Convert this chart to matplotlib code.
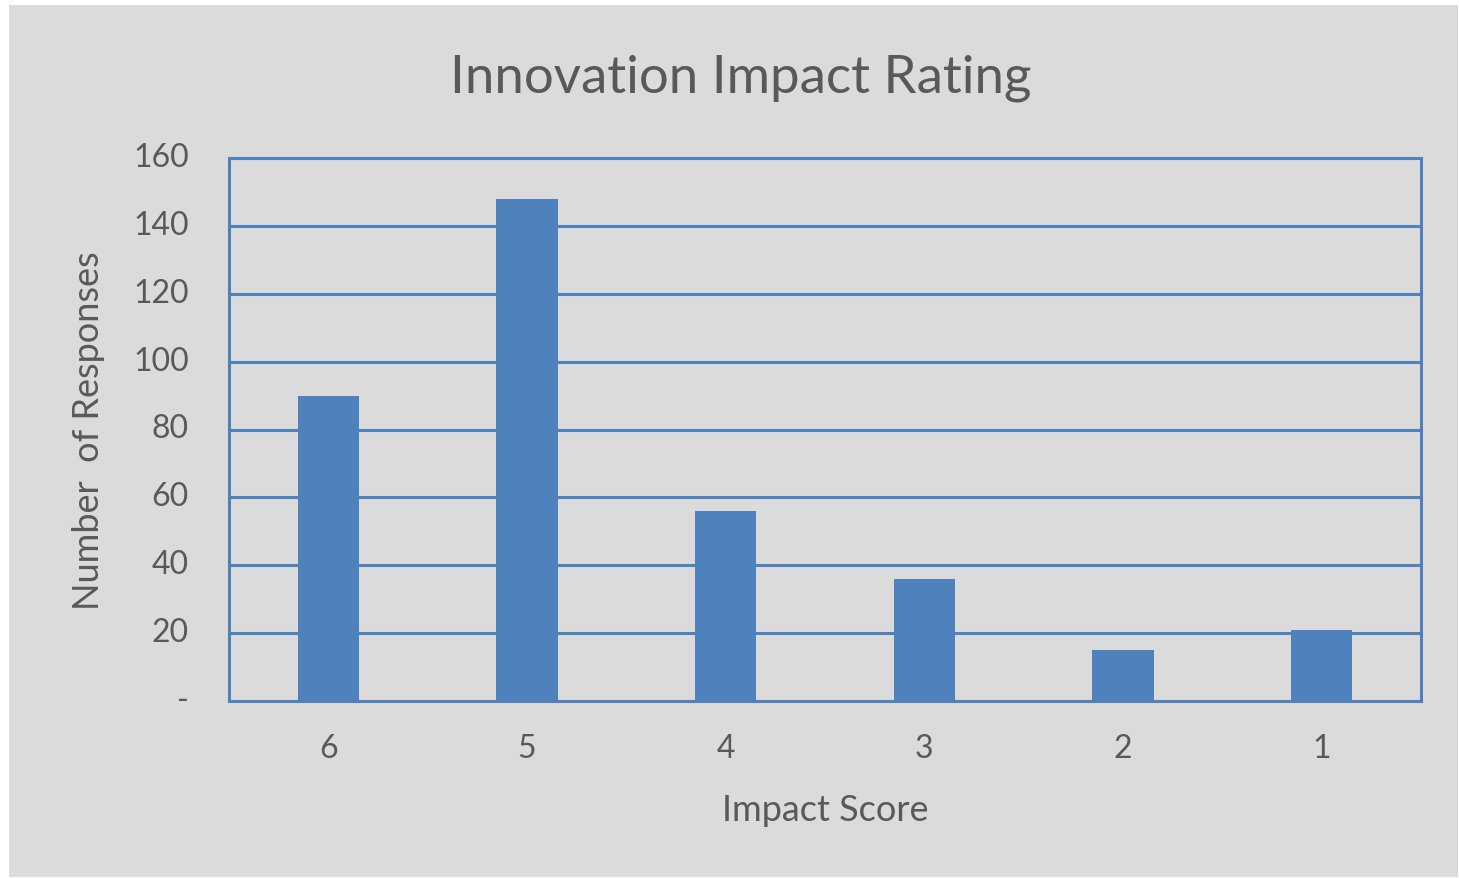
import numpy as np
import matplotlib.pyplot as plt
import matplotlib.transforms as mtransforms
from matplotlib.patches import Rectangle
from matplotlib.ticker import FuncFormatter

scores = ["6", "5", "4", "3", "2", "1"]
responses = [90, 148, 56, 36, 15, 21]
yticks = [0, 20, 40, 60, 80, 100, 120, 140, 160]

blue = "#4f81bd"
grey_bg = "#dbdbdb"
txt = "#595959"
plt.rcParams["font.family"] = ["Lato", "DejaVu Sans"]

fig = plt.figure(figsize=(14.59, 8.79), dpi=100)
fig.patch.set_facecolor("white")
fig.patches.append(Rectangle((9 / 1459, 1 / 879), 1449 / 1459, 872 / 879,
                             transform=fig.transFigure, facecolor=grey_bg,
                             edgecolor="none", zorder=-10))

ax = fig.add_axes([229 / 1459, 177 / 879, 1192 / 1459, 543 / 879])
ax.set_facecolor(grey_bg)
x = np.arange(len(scores))
ax.bar(x, responses, width=0.31, color=blue, zorder=3)

ax.set_xlim(-0.5, len(scores) - 0.5)
ax.set_ylim(0, 160)
ax.set_yticks(yticks)
ax.yaxis.set_major_formatter(FuncFormatter(lambda v, p: "-" if v == 0 else f"{v:.0f}"))
ax.set_xticks(x)
ax.set_xticklabels(scores)
ax.grid(axis="y", color=blue, linewidth=2.2, zorder=1)
ax.set_axisbelow(True)
for s in ax.spines.values():
    s.set_color(blue)
    s.set_linewidth(2.2)
ax.tick_params(length=0, labelsize=23, colors=txt)
ax.tick_params(axis="y", pad=29)
ax.tick_params(axis="x", pad=23)

# excel puts the value labels a touch above the gridlines
shift = mtransforms.ScaledTranslation(0, 4 / 100, fig.dpi_scale_trans)
for lbl in ax.get_yticklabels():
    lbl.set_transform(lbl.get_transform() + shift)

ax.set_xlabel("Impact Score", fontsize=26, color=txt, labelpad=22)
ax.set_ylabel("Number  of Responses", fontsize=26, color=txt, labelpad=20)
fig.text(741 / 1459, 1 - 78 / 879, "Innovation Impact Rating", fontsize=38,
         color=txt, ha="center", va="center")

fig.savefig("out.png", dpi=100)
